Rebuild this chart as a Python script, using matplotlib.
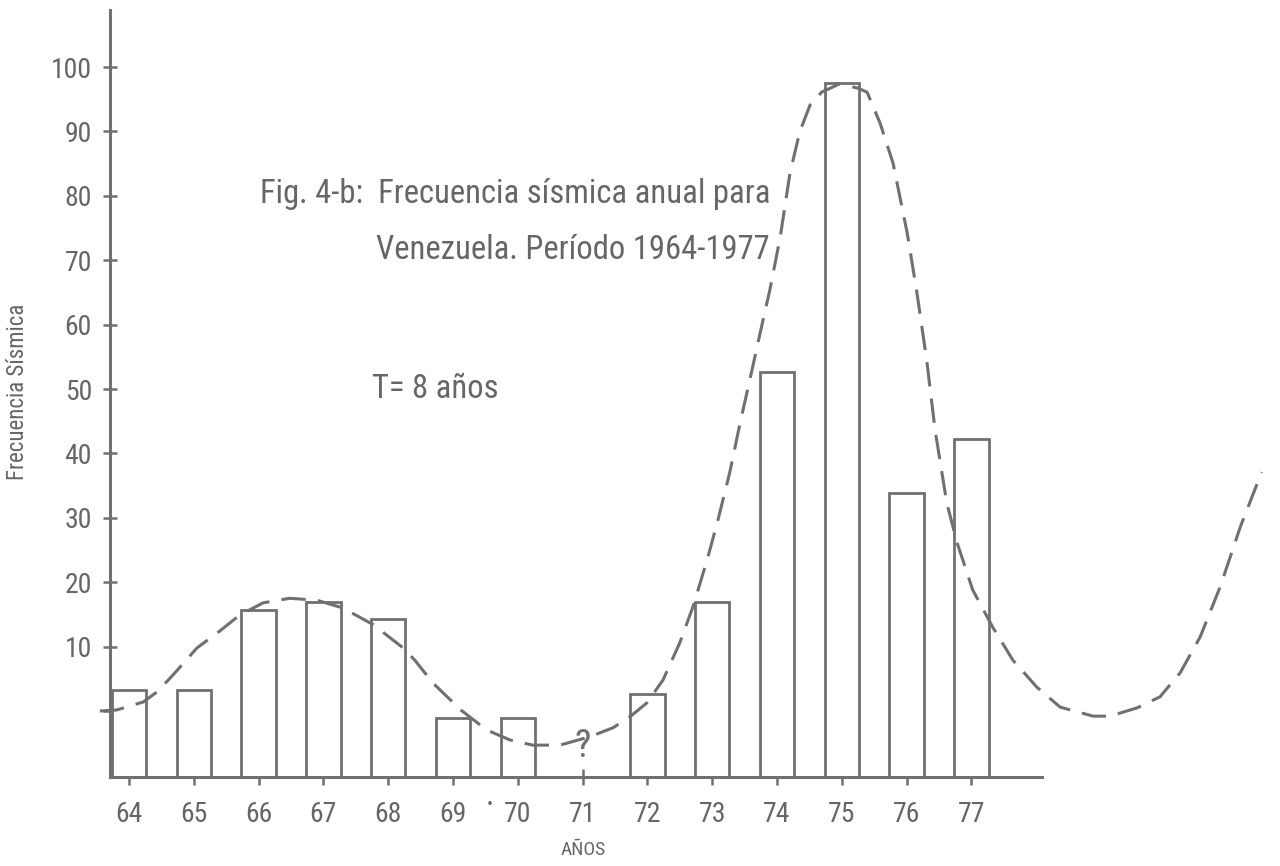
import matplotlib
matplotlib.use("Agg")
import matplotlib.pyplot as plt
from matplotlib import font_manager

# ---- data ----
years = [64, 65, 66, 67, 68, 69, 70, 72, 73, 74, 75, 76, 77]
freq = [3.3, 3.3, 15.7, 16.9, 14.3, -1.1, -1.1, 2.6, 16.9, 52.6, 97.5, 33.8, 42.2]
xtick_years = [64, 65, 66, 67, 68, 69, 70, 71, 72, 73, 74, 75, 76, 77]
yticks = [0, 10, 20, 30, 40, 50, 60, 70, 80, 90, 100]
ytick_labels = ["", "10", "20", "30", "40", "50", "60", "70", "80", "90", "100"]

curve_x = [63.55, 63.81, 64.22, 64.43, 64.68, 65.05, 65.36, 65.71, 66.07, 66.48,
           66.90, 67.30, 67.77, 68.23, 68.41, 68.69, 69.12, 69.52, 69.88, 70.23,
           70.65, 71.11, 71.47, 71.73, 71.99, 72.24, 72.50, 72.70, 72.92, 73.09,
           73.27, 73.43, 73.58, 73.74, 73.89, 74.05, 74.20, 74.35, 74.51, 74.69,
           74.97, 75.25, 75.39, 75.59, 75.79, 76.01, 76.16, 76.31, 76.44, 76.62,
           76.78, 77.02, 77.33, 77.64, 78.01, 78.37, 78.88, 79.14, 79.56, 79.91,
           80.22, 80.53, 80.84, 81.15, 81.48]
curve_y = [0.0, 0.16, 1.4, 2.95, 5.6, 9.8, 12.1, 14.9, 16.8, 17.5,
           17.2, 16.0, 13.4, 9.8, 7.9, 4.35, 0.16, -2.95, -4.5, -5.3,
           -5.3, -4.0, -2.6, -0.9, 1.24, 4.8, 10.6, 16.1, 23.4, 29.7,
           37.0, 44.7, 51.4, 58.7, 65.4, 73.6, 83.5, 89.9, 94.1, 96.1,
           97.4, 96.7, 96.1, 91.3, 85.1, 74.2, 64.9, 54.5, 43.6, 32.3,
           26.1, 18.8, 13.0, 7.9, 3.7, 0.6, -0.8, -0.8, 0.5, 2.2,
           5.9, 11.5, 19.3, 28.6, 37.1]

# ---- style ----
avail = {f.name for f in font_manager.fontManager.ttflist}
def pick(cands):
    for c in cands:
        if c in avail:
            return c
    return "DejaVu Sans"

narrow = pick(["Roboto Condensed", "Liberation Sans Narrow", "Roboto"])
plt.rcParams["font.family"] = [narrow, "DejaVu Sans"]

INK = "#707070"
TXT = "#666666"
W, H = 1280, 866
fig = plt.figure(figsize=(12.8, 8.66), dpi=100)

x_left_px, x_axis_end_px = 110, 1042
y_bottom_px = 777
ax = fig.add_axes([x_left_px / W, (H - y_bottom_px) / H, (W - x_left_px) / W, y_bottom_px / H])

px_per_year = 64.8
px_per_unit = 6.44
x0_px, y0_px = 129, 711
xmin = 64 + (x_left_px - x0_px) / px_per_year
xmax = 64 + (W - x0_px) / px_per_year
ymin = (y0_px - y_bottom_px) / px_per_unit
ymax = y0_px / px_per_unit
ax.set_xlim(xmin, xmax)
ax.set_ylim(ymin, ymax)

ax.bar(years, [v - ymin for v in freq], bottom=ymin, width=0.53,
       facecolor="white", edgecolor=INK, linewidth=2.0, zorder=2)

ax.plot(curve_x, curve_y, color=INK, linewidth=2.2, dashes=(8, 4),
        zorder=3, clip_on=False)

for s in ["top", "right"]:
    ax.spines[s].set_visible(False)
for s in ["left", "bottom"]:
    ax.spines[s].set_color(INK)
    ax.spines[s].set_linewidth(2.2)
ax.spines["left"].set_bounds(ymin, (y0_px - 10) / px_per_unit)
ax.spines["bottom"].set_bounds(xmin, 64 + (x_axis_end_px - x0_px) / px_per_year)

ax.set_yticks(yticks)
ax.set_yticklabels(ytick_labels)
ax.set_xticks(xtick_years)
ax.set_xticklabels([str(v) for v in xtick_years])
ax.tick_params(axis="y", direction="inout", length=10, width=1.8, color=INK,
               labelsize=20, labelcolor=TXT, pad=8)
ax.tick_params(axis="x", direction="inout", length=12, width=1.8, color=INK,
               labelsize=20, labelcolor=TXT, pad=11)

ax.text(71, -5.5, "?", ha="center", va="center", fontsize=28, color=INK)
ax.text(69.57, -14.8, "·", ha="center", va="center", fontsize=24, color=TXT,
        clip_on=False)

tfont = dict(color=TXT)
fig.text(770 / W, 1 - 194 / H, "Fig. 4-b:  Frecuencia sísmica anual para",
         ha="right", va="center", fontsize=23.5, **tfont)
fig.text(770 / W, 1 - 250 / H, "Venezuela. Período 1964-1977",
         ha="right", va="center", fontsize=23.5, **tfont)
fig.text(372 / W, 1 - 389 / H, "T= 8 años",
         ha="left", va="center", fontsize=23.5, **tfont)
fig.text(18 / W, 1 - 392 / H, "Frecuencia Sísmica", rotation=90,
         ha="center", va="center", fontsize=16.5, color=TXT)
fig.text(583 / W, 1 - 850 / H, "AÑOS", ha="center", va="center",
         fontsize=14, color=TXT)

fig.savefig("out.png", dpi=100, facecolor="white")
